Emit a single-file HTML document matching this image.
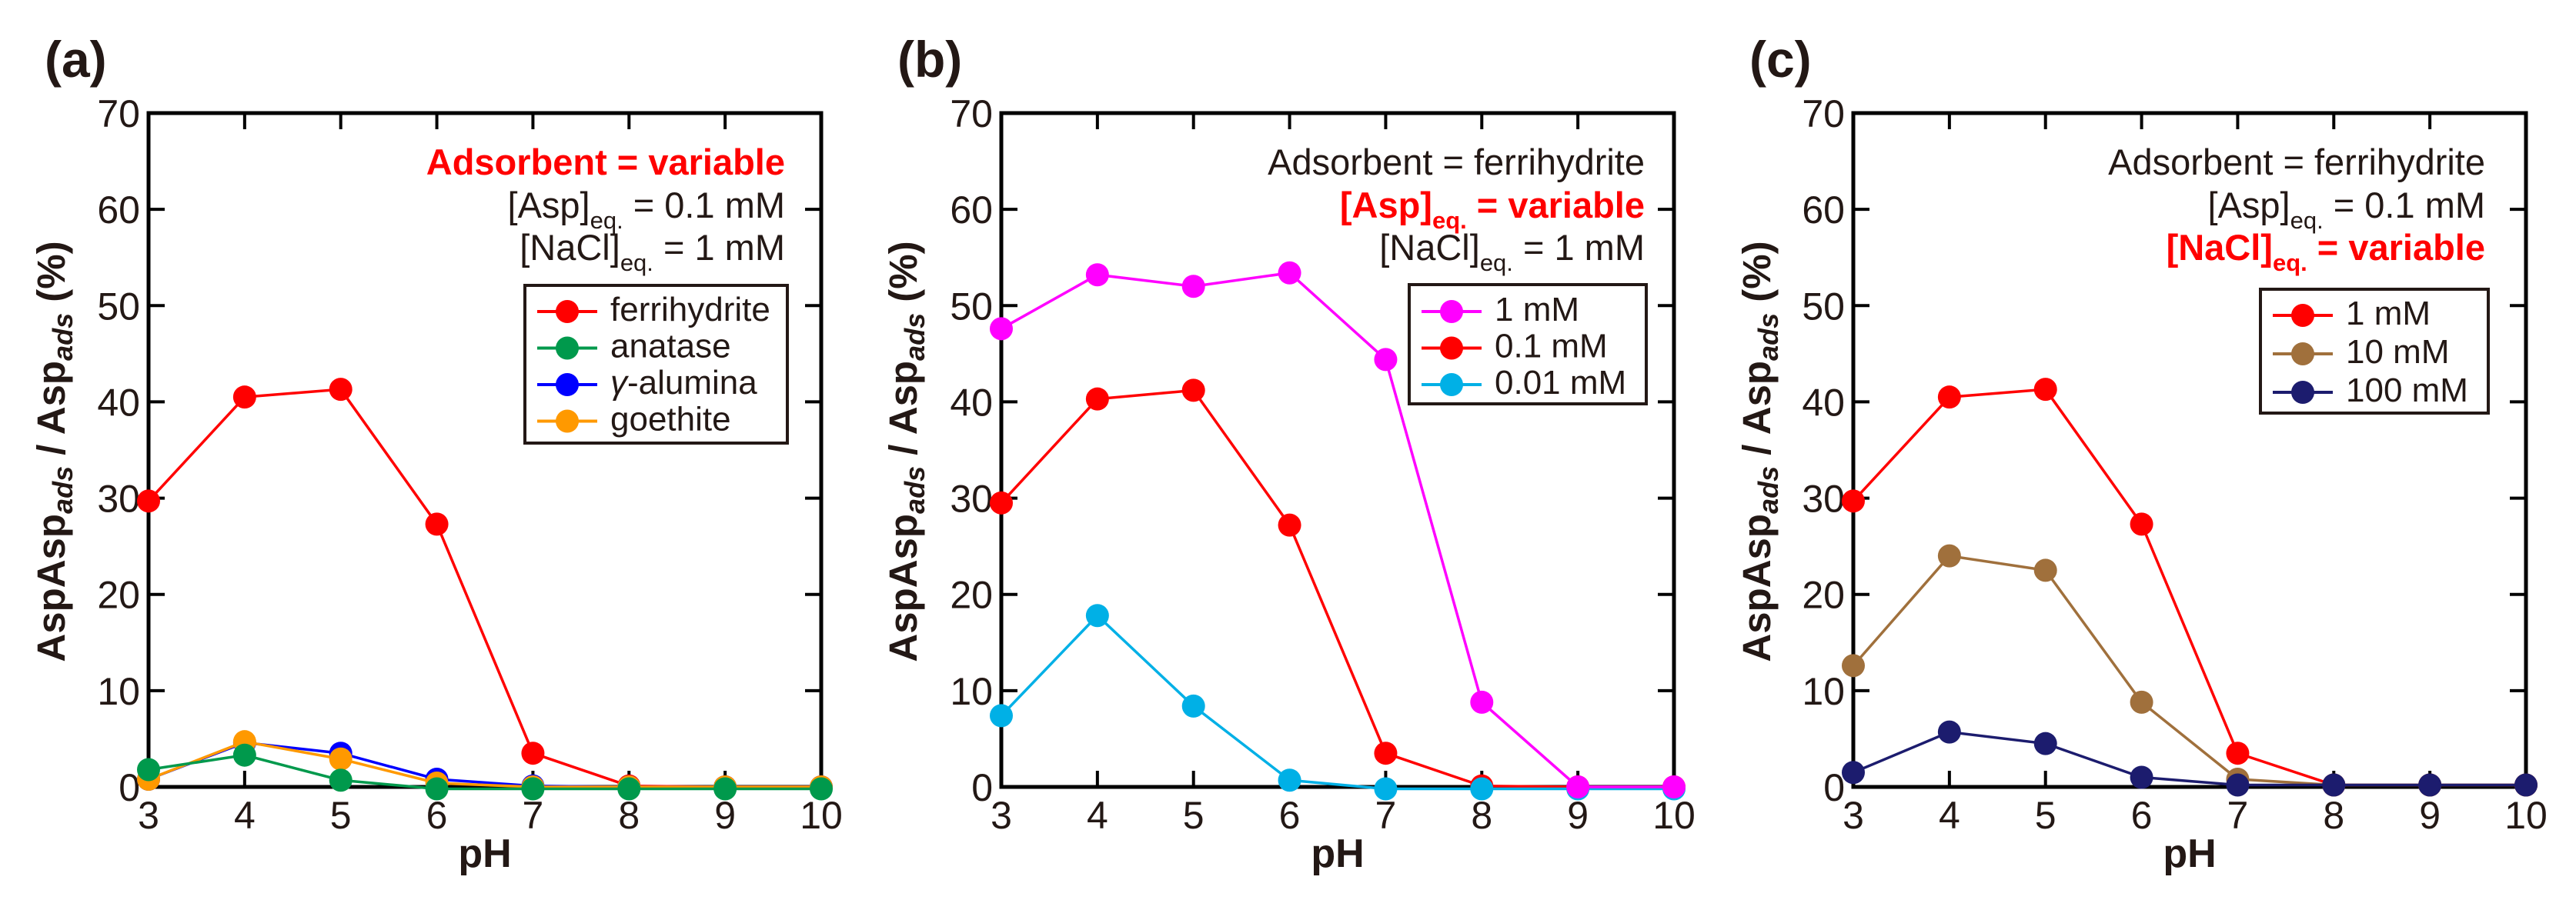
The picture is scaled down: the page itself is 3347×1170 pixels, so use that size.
<!DOCTYPE html>
<html><head><meta charset="utf-8">
<style>
html,body{margin:0;padding:0;background:#fff;}
svg{display:block;}
text{font-family:"Liberation Sans",Arial,sans-serif;fill:#231815;}
</style></head>
<body>
<svg id="fig" xmlns="http://www.w3.org/2000/svg" width="3347" height="1170" viewBox="0 0 3347 1170"></svg>
<script>
// ---- data ----
const phValues = [3, 4, 5, 6, 7, 8, 9, 10];
const xTicks = [3, 4, 5, 6, 7, 8, 9, 10];
const yTicks = [0, 10, 20, 30, 40, 50, 60, 70];

const aNames = ["ferrihydrite", "anatase", "γ-alumina", "goethite"];
const aFerrihydrite = [29.7, 40.5, 41.3, 27.3, 3.5, 0.1, 0, 0];
const aAnatase = [1.8, 3.3, 0.7, -0.2, -0.2, -0.2, -0.2, -0.2];
const aAlumina = [0.8, 4.6, 3.5, 0.8, 0.1, 0, 0, 0];
const aGoethite = [0.8, 4.7, 2.9, 0.4, 0, 0, 0, 0];

const bNames = ["1 mM", "0.1 mM", "0.01 mM"];
const b1mM = [47.6, 53.2, 52.0, 53.4, 44.4, 8.8, 0, 0];
const b01mM = [29.5, 40.3, 41.2, 27.2, 3.5, 0.1, 0, 0];
const b001mM = [7.4, 17.8, 8.4, 0.7, -0.2, -0.2, -0.2, -0.2];

const cNames = ["1 mM", "10 mM", "100 mM"];
const c1mM = [29.7, 40.5, 41.3, 27.3, 3.5, 0.2, 0.2, 0.2];
const c10mM = [12.6, 24.0, 22.5, 8.8, 0.8, 0.2, 0.2, 0.2];
const c100mM = [1.5, 5.7, 4.5, 1.0, 0.2, 0.2, 0.2, 0.2];

const NS = "http://www.w3.org/2000/svg";
const svg = document.getElementById("fig");
function mk(tag, attrs, parent) {
  const e = document.createElementNS(NS, tag);
  for (const k in attrs) e.setAttribute(k, attrs[k]);
  (parent || svg).appendChild(e);
  return e;
}

const TOP = 147, BOT = 1023;
function makePanel(cfg) {
  const g = mk("g", {});
  
  
  const L = cfg.left, R = cfg.left + 874;
  const xs = v => L + (v - 3) / 7 * (R - L);
  const ys = v => BOT - v / 70 * (BOT - TOP);

  const lt = mk("text", {x: cfg.letterX, y: 100, "font-size": 66, "font-weight": "bold"}, g);
  lt.textContent = "(" + cfg.id + ")";
  
  

  yTicks.forEach(t => {
    const y = ys(t);
    mk("line", {x1: L, x2: L + 21, y1: y, y2: y, stroke: "#000", "stroke-width": 4}, g);
    mk("line", {x1: R, x2: R - 21, y1: y, y2: y, stroke: "#000", "stroke-width": 4}, g);
    const tx = mk("text", {x: L - 11, y: y + 18, "font-size": 50, "text-anchor": "end"}, g);
    tx.textContent = t;
    
    
  });
  xTicks.forEach(t => {
    const x = xs(t);
    mk("line", {x1: x, x2: x, y1: TOP, y2: TOP + 21, stroke: "#000", "stroke-width": 4}, g);
    mk("line", {x1: x, x2: x, y1: BOT, y2: BOT - 21, stroke: "#000", "stroke-width": 4}, g);
    const tx = mk("text", {x: x, y: 1077, "font-size": 50, "text-anchor": "middle"}, g);
    tx.textContent = t;
    
    
  });
  const fr = mk("rect", {x: L, y: TOP, width: R - L, height: BOT - TOP, fill: "none", stroke: "#000", "stroke-width": 5}, g);
  
  

  const xl = mk("text", {x: (L + R) / 2, y: 1127, "font-size": 52, "font-weight": "bold", "text-anchor": "middle"}, g);
  xl.textContent = "pH";
  
  
  const yl = mk("text", {x: 0, y: 0, "font-size": 51, "font-weight": "bold", "text-anchor": "middle",
    transform: "translate(" + (cfg.ylabX + 18) + ",587) rotate(-90)"}, g);
  yl.innerHTML = 'AspAsp<tspan font-size="36" font-style="italic" dy="10">ads</tspan><tspan dy="-10"> / Asp</tspan><tspan font-size="36" font-style="italic" dy="10">ads</tspan><tspan dy="-10"> (%)</tspan>';
  
  

  cfg.notes.forEach((n, i) => {
    const t = mk("text", {x: cfg.noteRight, y: [227, 283, 338][i], "font-size": 47, "text-anchor": "end",
      "font-weight": n.red ? "bold" : "normal"}, g);
    
    
    t.innerHTML = n.html;
    t.style.fill = n.red ? "#ff0000" : "#231815";
  });

  cfg.series.forEach(s => {
    const sg = mk("g", {}, g);
    
    
    const pts = [];
    phValues.forEach((p, i) => { if (s.vals[i] !== null) pts.push([xs(p), ys(s.vals[i])]); });
    const pl = mk("polyline", {points: pts.map(q => q.join(",")).join(" "), fill: "none", stroke: s.color, "stroke-width": 3.5}, sg);
    
    
    pts.forEach(q => {
      const c = mk("circle", {cx: q[0], cy: q[1], r: 15, fill: s.color}, sg);
      
      
    });
  });

  const lg = mk("g", {}, g);
  
  
  const lb = cfg.legend;
  mk("rect", {x: lb.x, y: lb.y, width: lb.w, height: lb.h, fill: "#fff", stroke: "#231815", "stroke-width": 4}, lg);
  lb.items.forEach((it, i) => {
    const cy = lb.rowY + i * lb.dy;
    const e = mk("g", {}, lg);
    
    
    mk("line", {x1: lb.x + 16, x2: lb.x + 94, y1: cy, y2: cy, stroke: it.color, "stroke-width": 4}, e);
    mk("circle", {cx: lb.x + 55, cy: cy, r: 15, fill: it.color}, e);
    const t = mk("text", {x: lb.x + 111, y: cy + 12, "font-size": 44}, e);
    t.innerHTML = it.label;
  });
}

const SUB = '<tspan font-size="31" dy="14">eq.</tspan><tspan dy="-14">';
makePanel({
  id: "a", left: 193, letterX: 58, ylabX: 66, noteRight: 1020,
  notes: [
    {red: true, html: 'Adsorbent = variable'},
    {red: false, html: '[Asp]' + SUB + ' = 0.1 mM</tspan>'},
    {red: false, html: '[NaCl]' + SUB + ' = 1 mM</tspan>'}
  ],
  series: [
    {key: "ferrihydrite", color: "#ff0000", vals: aFerrihydrite},
    {key: "gamma-alumina", color: "#0000ff", vals: aAlumina},
    {key: "goethite", color: "#ff9900", vals: aGoethite},
    {key: "anatase", color: "#00994c", vals: aAnatase}
  ],
  legend: {x: 682, y: 371, w: 341, h: 205, rowY: 405, dy: 47.5, items: [
    {label: aNames[0], color: "#ff0000"},
    {label: aNames[1], color: "#00994c"},
    {label: '<tspan font-style="italic">γ</tspan>-alumina', color: "#0000ff"},
    {label: aNames[3], color: "#ff9900"}
  ]}
});
makePanel({
  id: "b", left: 1301, letterX: 1166, ylabX: 1173, noteRight: 2137,
  notes: [
    {red: false, html: 'Adsorbent = ferrihydrite'},
    {red: true, html: '[Asp]' + SUB + ' = variable</tspan>'},
    {red: false, html: '[NaCl]' + SUB + ' = 1 mM</tspan>'}
  ],
  series: [
    {key: "0.1mM", color: "#ff0000", vals: b01mM},
    {key: "0.01mM", color: "#00b0e6", vals: b001mM},
    {key: "1mM", color: "#ff00ff", vals: b1mM}
  ],
  legend: {x: 1831, y: 370, w: 308, h: 155, rowY: 405, dy: 47.5, items: [
    {label: bNames[0], color: "#ff00ff"},
    {label: bNames[1], color: "#ff0000"},
    {label: bNames[2], color: "#00b0e6"}
  ]}
});
makePanel({
  id: "c", left: 2408, letterX: 2273, ylabX: 2282, noteRight: 3229,
  notes: [
    {red: false, html: 'Adsorbent = ferrihydrite'},
    {red: false, html: '[Asp]' + SUB + ' = 0.1 mM</tspan>'},
    {red: true, html: '[NaCl]' + SUB + ' = variable</tspan>'}
  ],
  series: [
    {key: "1mM", color: "#ff0000", vals: c1mM},
    {key: "10mM", color: "#a0703c", vals: c10mM},
    {key: "100mM", color: "#1c1c6e", vals: c100mM}
  ],
  legend: {x: 2937, y: 376, w: 296, h: 161, rowY: 410, dy: 50, items: [
    {label: cNames[0], color: "#ff0000"},
    {label: cNames[1], color: "#a0703c"},
    {label: cNames[2], color: "#1c1c6e"}
  ]}
});
</script>
</body></html>
